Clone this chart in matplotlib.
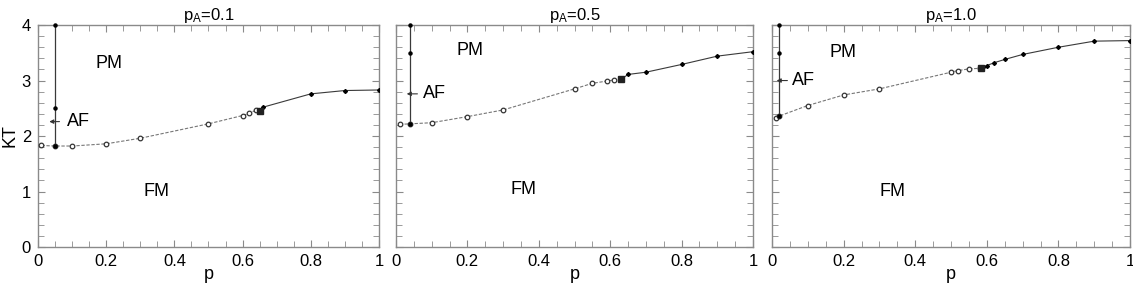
import matplotlib.pyplot as plt
from matplotlib.ticker import MultipleLocator

plt.rcParams['font.family'] = ['Liberation Sans', 'DejaVu Sans']
plt.rcParams['mathtext.default'] = 'regular'

# panel titles
titles = ["p$_A$=0.1", "p$_A$=0.5", "p$_A$=1.0"]

# open-circle (dashed) branch
circ_p = [
    [0.01, 0.05, 0.1, 0.2, 0.3, 0.5, 0.6, 0.62, 0.64],
    [0.01, 0.04, 0.1, 0.2, 0.3, 0.5, 0.55, 0.59, 0.61],
    [0.01, 0.02, 0.1, 0.2, 0.3, 0.5, 0.52, 0.55, 0.58],
]
circ_kt = [
    [1.83, 1.82, 1.82, 1.86, 1.96, 2.22, 2.37, 2.41, 2.47],
    [2.21, 2.22, 2.24, 2.35, 2.47, 2.85, 2.95, 2.99, 3.01],
    [2.33, 2.36, 2.55, 2.74, 2.85, 3.15, 3.18, 3.21, 3.22],
]
# filled-dot (solid) branch
dot_p = [
    [0.65, 0.66, 0.8, 0.9, 1.0],
    [0.63, 0.65, 0.7, 0.8, 0.9, 1.0],
    [0.585, 0.59, 0.6, 0.62, 0.65, 0.7, 0.8, 0.9, 1.0],
]
dot_kt = [
    [2.45, 2.52, 2.76, 2.82, 2.83],
    [3.02, 3.11, 3.15, 3.29, 3.44, 3.52],
    [3.23, 3.25, 3.27, 3.32, 3.38, 3.47, 3.60, 3.71, 3.72],
]
# multicritical square
sq_p = [0.65, 0.63, 0.585]
sq_kt = [2.45, 3.02, 3.22]

# vertical AF boundary
vert_p = [0.05, 0.04, 0.02]
vert_kt = [[1.82, 2.51, 4.0], [2.22, 3.49, 4.0], [2.36, 3.50, 4.0]]

# AF arrow + labels
af_arrow = [(0.033, 2.26), (0.03, 2.76), (0.013, 3.0)]
af_text = [(0.085, 2.26), (0.075, 2.76), (0.055, 3.0)]
pm_text = [(0.17, 3.3), (0.17, 3.55), (0.16, 3.5)]
fm_text = [(0.31, 1.0), (0.32, 1.04), (0.3, 1.0)]

fig = plt.figure(figsize=(11.33, 2.89), dpi=100)
boxes = [
    [38 / 1133, 0.1453, 341 / 1133, 0.768],
    [396 / 1133, 0.1453, 357 / 1133, 0.768],
    [772 / 1133, 0.1453, 358 / 1133, 0.768],
]
line_col = '#3a3a3a'
frame_col = '#8a8a8a'

for i in range(3):
    ax = fig.add_axes(boxes[i])
    ax.plot(circ_p[i], circ_kt[i], ls='--', dashes=(3, 1.5), color='#777777', lw=0.8,
            marker='o', ms=3.3, mfc='white', mec='#333333', mew=0.9, zorder=3)
    ax.plot(dot_p[i], dot_kt[i], ls='-', color=line_col, lw=0.8,
            marker='D', ms=2.0, mfc='black', mec='black', zorder=3)
    ax.plot([sq_p[i]], [sq_kt[i]], ls='none', marker='s', ms=3.8, color='#222222', zorder=4)
    ax.plot([vert_p[i]] * 3, vert_kt[i], ls='-', color=line_col, lw=0.9,
            marker='o', ms=2.2, mfc='black', mec='black', zorder=3, clip_on=False)
    ax.annotate('', xy=af_arrow[i], xytext=(af_arrow[i][0] + 0.03, af_arrow[i][1]),
                arrowprops=dict(arrowstyle='-|>', color='#333333', lw=0.8,
                                mutation_scale=6, shrinkA=0, shrinkB=0))
    ax.text(af_text[i][0], af_text[i][1], 'AF', fontsize=13, va='center', ha='left')
    ax.text(pm_text[i][0], pm_text[i][1], 'PM', fontsize=13, va='center', ha='left')
    ax.text(fm_text[i][0], fm_text[i][1], 'FM', fontsize=13, va='center', ha='left')

    ax.set_xlim(0, 1)
    ax.set_ylim(0, 4)
    ax.xaxis.set_major_locator(MultipleLocator(0.2))
    ax.xaxis.set_minor_locator(MultipleLocator(0.05))
    ax.yaxis.set_major_locator(MultipleLocator(1))
    ax.yaxis.set_minor_locator(MultipleLocator(0.2))
    ax.set_xticks([0, 0.2, 0.4, 0.6, 0.8, 1.0])
    ax.set_xticklabels(['0', '0.2', '0.4', '0.6', '0.8', '1'])
    ax.tick_params(which='both', direction='in', top=True, right=True,
                   color=frame_col, labelsize=12, pad=5)
    ax.tick_params(which='major', length=5)
    ax.tick_params(which='minor', length=4)
    for s in ax.spines.values():
        s.set_color(frame_col)
        s.set_linewidth(1.0)
    ax.set_xlabel('p', fontsize=13, labelpad=-2)
    ax.set_title(titles[i], fontsize=12, pad=4)
    if i == 0:
        ax.set_yticks([0, 1, 2, 3, 4])
        ax.set_yticklabels(['0', '1', '2', '3', '4'])
        ax.set_ylabel('KT', fontsize=13, labelpad=2)
    else:
        ax.set_yticklabels([])

fig.savefig('out.png', dpi=100)
